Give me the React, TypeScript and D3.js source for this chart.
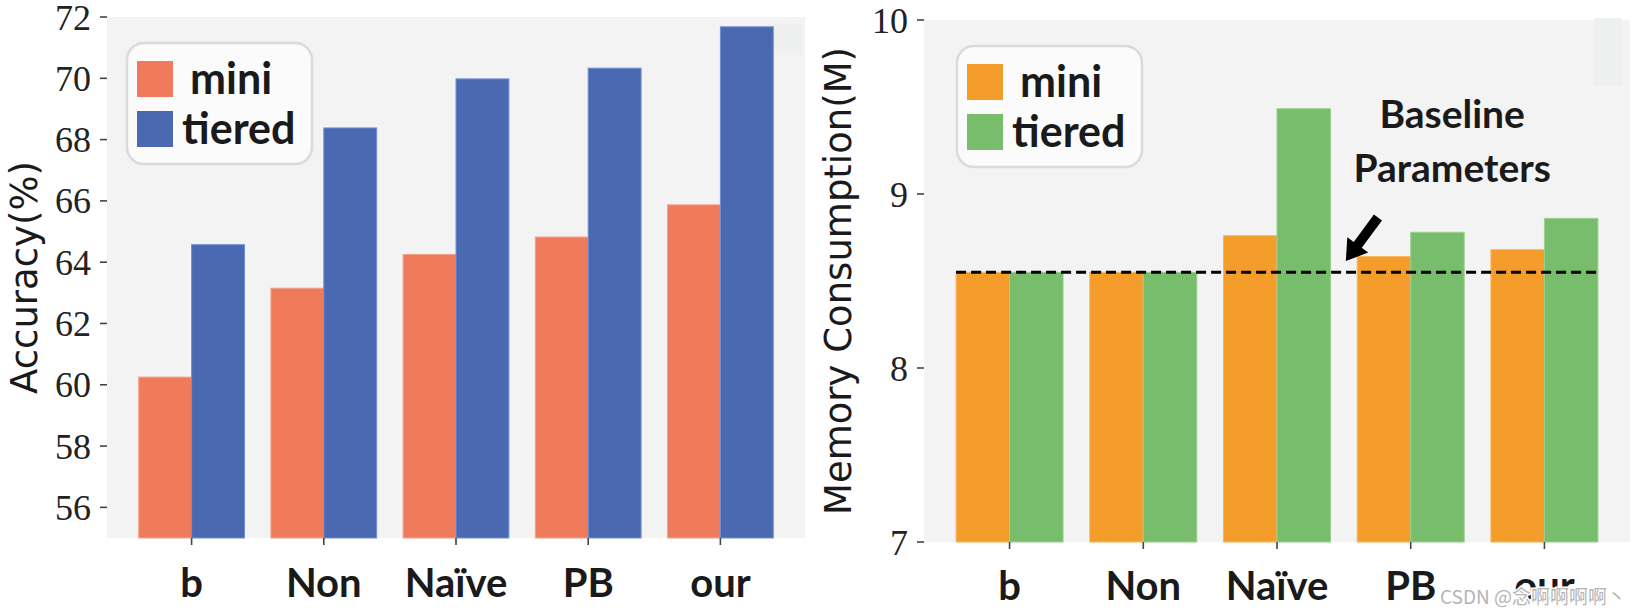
import React from "react";
import * as d3 from "d3";

const categories = ["b", "Non", "Naïve", "PB", "our"];
const seriesNames = ["mini", "tiered"];
const accMini = [60.25, 63.15, 64.25, 64.82, 65.87];
const accTiered = [64.57, 68.38, 69.98, 70.33, 71.68];
const memMini = [8.55, 8.55, 8.76, 8.64, 8.68];
const memTiered = [8.55, 8.55, 9.49, 8.78, 8.86];
const baselineValue = 8.55;
const accTicks = [56, 58, 60, 62, 64, 66, 68, 70, 72];
const memTicks = [7, 8, 9, 10];
const annotationLines = ["Baseline", "Parameters"];

const W = 1642;
const H = 616;

const tickFont = "'Liberation Serif', 'Times New Roman', serif";
const labelFont = "'DejaVu Sans', sans-serif";
const boldFont = "Lato, 'Open Sans', sans-serif";

type PanelProps = {
  left: number;
  right: number;
  top: number;
  bottom: number;
  domain: [number, number];
  ticks: number[];
  a: number[];
  b: number[];
  colA: string;
  colB: string;
  edgeA: string;
  edgeB: string;
  yLabel: string;
  yLabelX: number;
  xLabelY: number;
  legendX: number;
  legendY: number;
  artifact: { x0: number; x1: number; y0: number; y1: number };
  children?: (x: d3.ScaleLinear<number, number>, y: d3.ScaleLinear<number, number>) => React.ReactNode;
};

function Panel(p: PanelProps) {
  const x = d3.scaleLinear().domain([-0.64, categories.length - 1 + 0.64]).range([p.left, p.right]);
  const y = d3.scaleLinear().domain(p.domain).range([p.bottom, p.top]);
  const bw = 0.4;
  const lx = p.legendX;
  const ly = p.legendY;
  return (
    <g>
      <rect x={p.left} y={p.top} width={p.right - p.left} height={p.bottom - p.top} fill="#f4f3f4" />
      <rect x={p.artifact.x0} y={p.artifact.y0} width={p.artifact.x1 - p.artifact.x0} height={p.artifact.y1 - p.artifact.y0} fill="#eef0f0" />
      {categories.map((c, i) => (
        <g key={c}>
          <rect x={x(i - bw)} y={y(p.a[i])} width={x(i) - x(i - bw)} height={y(p.domain[0]) - y(p.a[i])} fill={p.colA} stroke={p.edgeA} strokeWidth={1} />
          <rect x={x(i)} y={y(p.b[i])} width={x(i + bw) - x(i)} height={y(p.domain[0]) - y(p.b[i])} fill={p.colB} stroke={p.edgeB} strokeWidth={1} />
          <line x1={x(i)} x2={x(i)} y1={p.bottom} y2={p.bottom + 7} stroke="#444" strokeWidth={1.6} />
          <text x={x(i)} y={p.xLabelY} textAnchor="middle" fontFamily={boldFont} fontWeight={700} fontSize={40} fill="#1a1a1a">{c}</text>
        </g>
      ))}
      {p.ticks.map((t) => (
        <g key={t}>
          <line x1={p.left - 7} x2={p.left} y1={y(t)} y2={y(t)} stroke="#444" strokeWidth={1.6} />
          <text x={p.left - 16} y={y(t)} dy="0.35em" textAnchor="end" fontFamily={tickFont} fontSize={36} fill="#222">{t}</text>
        </g>
      ))}
      <text transform={`translate(${p.yLabelX},${(p.top + p.bottom) / 2}) rotate(-90)`} textAnchor="middle" fontFamily={labelFont} fontSize={37} fill="#1a1a1a">{p.yLabel}</text>
      <g>
        <rect x={lx} y={ly} width={185} height={121} rx={17} ry={17} fill="#fbfbfb" fillOpacity={0.85} stroke="#dadada" strokeWidth={2.5} />
        <rect x={lx + 10} y={ly + 18} width={36} height={36} fill={p.colA} />
        <rect x={lx + 10} y={ly + 68} width={36} height={36} fill={p.colB} />
        <text x={lx + 63} y={ly + 51} fontFamily={boldFont} fontWeight={700} fontSize={43} fill="#1a1a1a">{seriesNames[0]}</text>
        <text x={lx + 55} y={ly + 101} fontFamily={boldFont} fontWeight={700} fontSize={43} fill="#1a1a1a">{seriesNames[1]}</text>
      </g>
      {p.children ? p.children(x, y) : null}
    </g>
  );
}

function Arrow({ x1, y1, x2, y2 }: { x1: number; y1: number; x2: number; y2: number }) {
  const dx = x2 - x1;
  const dy = y2 - y1;
  const len = Math.hypot(dx, dy);
  const ux = dx / len;
  const uy = dy / len;
  const nx = -uy;
  const ny = ux;
  const headLen = 20;
  const headW = 13;
  const shaftW = 5;
  const bx = x2 - ux * headLen;
  const by = y2 - uy * headLen;
  const pts = [
    [x1 + nx * shaftW, y1 + ny * shaftW],
    [bx + nx * shaftW, by + ny * shaftW],
    [bx + nx * headW, by + ny * headW],
    [x2, y2],
    [bx - nx * headW, by - ny * headW],
    [bx - nx * shaftW, by - ny * shaftW],
    [x1 - nx * shaftW, y1 - ny * shaftW],
  ];
  return <polygon points={pts.map((q) => q.join(",")).join(" ")} fill="#000" />;
}

export default function App() {
  return (
    <div style={{ position: "absolute", left: 0, top: 0, width: W, height: H, background: "#fff" }}>
      <svg width={W} height={H} viewBox={`0 0 ${W} ${H}`} style={{ display: "block" }}>
        <rect width={W} height={H} fill="#fff" />
        <Panel
          left={107}
          right={805}
          top={17}
          bottom={538}
          domain={[55, 72]}
          ticks={accTicks}
          a={accMini}
          b={accTiered}
          colA="#f07b5c"
          colB="#4a69b0"
          edgeA="#f5a08a"
          edgeB="#6f8fd6"
          yLabel="Accuracy(%)"
          yLabelX={37}
          xLabelY={597}
          legendX={127}
          legendY={43}
          artifact={{ x0: 774, x1: 802, y0: 24, y1: 53 }}
        />
        <Panel
          left={924}
          right={1630}
          top={20}
          bottom={542}
          domain={[7, 10]}
          ticks={memTicks}
          a={memMini}
          b={memTiered}
          colA="#f59d2a"
          colB="#77bd6b"
          edgeA="#f8b45a"
          edgeB="#9ad08f"
          yLabel="Memory Consumption(M)"
          yLabelX={851}
          xLabelY={600}
          legendX={957}
          legendY={46}
          artifact={{ x0: 1594, x1: 1622, y0: 18, y1: 86 }}
        >
          {(x, y) => (
            <g>
              <line x1={x(-0.4)} x2={x(4.4)} y1={y(baselineValue)} y2={y(baselineValue)} stroke="#000" strokeWidth={3} strokeDasharray="10,5" />
              <Arrow x1={x(2.755)} y1={y(8.865)} x2={x(2.515)} y2={y(8.615)} />
              {annotationLines.map((t, k) => (
                <text key={t} x={x(3.31)} y={y(k === 0 ? 9.378 : 9.068)} textAnchor="middle" fontFamily={boldFont} fontWeight={700} fontSize={39} fill="#1a1a1a">{t}</text>
              ))}
            </g>
          )}
        </Panel>
        <text x={1440} y={604} fontFamily="'Noto Sans CJK SC', sans-serif" fontSize={19} fill="#b4b4b4" stroke="#fff" strokeWidth={3} paintOrder="stroke">CSDN @念啊啊啊啊丶</text>
      </svg>
    </div>
  );
}
